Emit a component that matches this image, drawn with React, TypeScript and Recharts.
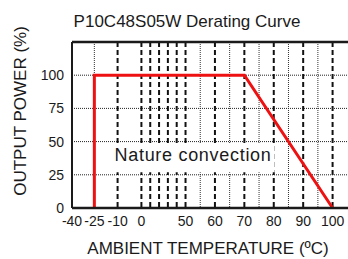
import {
  LineChart, Line, XAxis, YAxis, CartesianGrid, ReferenceLine, ReferenceArea,
} from "recharts";

// Derating curve: temperature (ºC) vs output power (%)
const CURVE_TEMP = [-25, -25, 70, 100];
const CURVE_POWER = [0, 100, 100, 0];

const X_TICKS = [-40, -25, -10, 0, 50, 60, 70, 80, 90, 100];
const Y_TICKS = [0, 25, 50, 75, 100];
const GRID_MAJOR = [-10, 0, 10, 20, 30, 40, 50, 60, 70, 80, 90, 100];
const GRID_MINOR = [-25, 55, 65, 75, 85, 95];
const GRID_POWER = [25, 50, 75, 100];

// the temperature axis is not linear: the cold side is squeezed
const SCALE_TEMP = [-40, -25, -10, 0, 50, 110];
const SCALE_UNIT = [11.4, 19.0, 26.9, 35.0, 50, 110];

function warp(t: number): number {
  for (let i = 1; i < SCALE_TEMP.length; i++) {
    if (t <= SCALE_TEMP[i]) {
      const k = (t - SCALE_TEMP[i - 1]) / (SCALE_TEMP[i] - SCALE_TEMP[i - 1]);
      return SCALE_UNIT[i - 1] + k * (SCALE_UNIT[i] - SCALE_UNIT[i - 1]);
    }
  }
  return t;
}

const data = CURVE_TEMP.map((t, i) => ({ u: warp(t), p: CURVE_POWER[i] }));
const tickLabel: Record<string, string> = {};
X_TICKS.forEach(t => { tickLabel[warp(t).toFixed(3)] = String(t); });

const FONT = "'Liberation Sans', Arial, sans-serif";
const INK = "#1a1a1a";

export default function App() {
  return (
    <div style={{ position: "absolute", left: 0, top: 0, width: 348, height: 259, overflow: "hidden", background: "#fff" }}>
      <LineChart width={365} height={259} data={data} margin={{ top: 42, right: 3, left: 0, bottom: 0 }}>
        <CartesianGrid horizontal={false} verticalValues={GRID_MAJOR.map(warp)} stroke="#111" strokeWidth={2} strokeDasharray="5 3" />
        <CartesianGrid horizontal={false} verticalValues={GRID_MINOR.map(warp)} stroke="#333" strokeWidth={1} strokeDasharray="1 1" />
        <CartesianGrid vertical={false} horizontalValues={GRID_POWER} stroke="#222" strokeWidth={1} strokeDasharray="1 1" />
        <XAxis
          dataKey="u"
          type="number"
          domain={[warp(-40), 110]}
          ticks={X_TICKS.map(warp)}
          interval={0}
          allowDecimals
          tickFormatter={(v: number) => tickLabel[v.toFixed(3)] ?? ""}
          tickLine={false}
          axisLine={{ stroke: INK, strokeWidth: 2.5 }}
          tick={{ fontSize: 14, fill: INK, fontFamily: FONT }}
          height={51}
          label={{
            content: () => (
              <text x={208} y={254} textAnchor="middle" fontSize={17} fill={INK} fontFamily={FONT}>
                AMBIENT TEMPERATURE (ºC)
              </text>
            ),
          }}
        />
        <YAxis
          type="number"
          domain={[0, 125]}
          ticks={Y_TICKS}
          interval={0}
          tickLine={false}
          axisLine={{ stroke: INK, strokeWidth: 2 }}
          tick={{ fontSize: 14, fill: INK, fontFamily: FONT }}
          width={72}
          label={{
            content: () => (
              <text x={26} y={111} transform="rotate(-90 26 111)" textAnchor="middle" fontSize={17} fill={INK} fontFamily={FONT}>
                OUTPUT POWER (%)
              </text>
            ),
          }}
        />
        <ReferenceArea
          x1={warp(-14)}
          x2={warp(80.3)}
          y1={27}
          y2={48.5}
          fill="#fff"
          fillOpacity={1}
          stroke="none"
          label={{
            content: (props: any) => {
              const vb = props.viewBox ?? { x: 0, y: 0, width: 0, height: 0 };
              return (
                <text x={vb.x + vb.width / 2} y={vb.y + 17} textAnchor="middle" fontSize={18} letterSpacing={0.7} fill={INK} fontFamily={FONT}>
                  Nature convection
                </text>
              );
            },
          }}
        />
        <ReferenceLine
          y={125}
          stroke={INK}
          strokeWidth={2.5}
          label={{
            content: () => (
              <text x={187} y={27} textAnchor="middle" fontSize={17} fill={INK} fontFamily={FONT}>
                P10C48S05W Derating Curve
              </text>
            ),
          }}
        />
        <Line dataKey="p" type="linear" stroke="#ee1111" strokeWidth={3} dot={false} isAnimationActive={false} />
      </LineChart>
    </div>
  );
}
